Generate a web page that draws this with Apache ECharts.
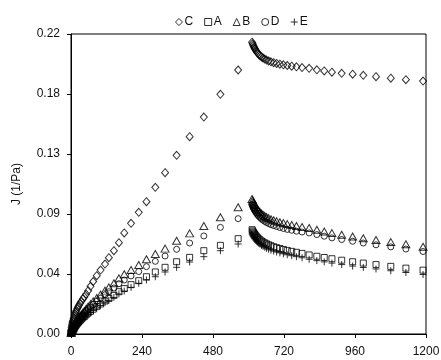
<!DOCTYPE html>
<html><head><meta charset="utf-8">
<script src="https://cdn.jsdelivr.net/npm/echarts/dist/echarts.min.js"></script>
<style>html,body{margin:0;padding:0;background:#fff}#c{width:441px;height:360px}</style>
</head><body><div id="c"></div>
<script>
// time points (s)
const creepTimes = [0.5,1,2,3,4,5,6,7,8.5,10,12,14,16,18,21,24,27,31,35,40,45,51,58,66,75,87,100,115,128,145,162,180,203,229,255,285,318,357,401,449,505,565];
const recoveryTimes = [612,614,616,618,620,622,625,628,631,635,639,644,649,655,661,668,676,685,695,706,718,731,746,762,781,805,831,856,882,915,952,988,1031,1081,1132,1190];

// compliance J (1/Pa) - creep phase
const creepC = [.0020,.0030,.0045,.0058,.0070,.0080,.0090,.0098,.0110,.0120,.0135,.0148,.0160,.0170,.0185,.0198,.0210,.0225,.0240,.0257,.0272,.0292,.0318,.0350,.0385,.0428,.0469,.0513,.0560,.0611,.0670,.0741,.0812,.0892,.0970,.1076,.1183,.1310,.1447,.1591,.1758,.1936];
const creepA = [.0006,.0010,.0016,.0021,.0025,.0030,.0033,.0036,.0042,.0046,.0052,.0059,.0064,.0069,.0077,.0084,.0091,.0100,.0109,.0119,.0128,.0140,.0153,.0166,.0182,.0201,.0220,.0242,.0260,.0283,.0310,.0333,.0362,.0391,.0420,.0455,.0489,.0530,.0562,.0611,.0650,.0699];
const creepB = [.0008,.0013,.0021,.0027,.0033,.0039,.0044,.0048,.0055,.0061,.0069,.0077,.0084,.0091,.0101,.0111,.0120,.0132,.0143,.0156,.0169,.0184,.0201,.0219,.0239,.0264,.0290,.0318,.0342,.0372,.0408,.0438,.0469,.0506,.0548,.0587,.0626,.0684,.0738,.0792,.0856,.0929];
const creepD = [.0007,.0012,.0019,.0024,.0030,.0035,.0040,.0043,.0050,.0055,.0062,.0070,.0076,.0082,.0091,.0100,.0109,.0119,.0129,.0141,.0153,.0167,.0182,.0198,.0216,.0239,.0262,.0288,.0310,.0337,.0369,.0396,.0426,.0458,.0494,.0533,.0572,.0621,.0667,.0719,.0782,.0846];
const creepE = [.0006,.0009,.0015,.0019,.0024,.0028,.0032,.0035,.0040,.0044,.0050,.0055,.0060,.0066,.0073,.0080,.0086,.0095,.0103,.0112,.0122,.0132,.0145,.0158,.0172,.0190,.0209,.0229,.0246,.0268,.0294,.0315,.0342,.0372,.0396,.0420,.0455,.0489,.0528,.0567,.0611,.0660];

// compliance J (1/Pa) - recovery phase
const recovC = [.2140,.2128,.2117,.2107,.2098,.2090,.2079,.2069,.2060,.2050,.2041,.2032,.2024,.2016,.2009,.2002,.1996,.1990,.1984,.1979,.1974,.1969,.1964,.1959,.1954,.1948,.1937,.1929,.1920,.1912,.1905,.1897,.1887,.1876,.1865,.1855];
const recovA = [.0765,.0756,.0748,.0741,.0734,.0728,.0720,.0712,.0705,.0697,.0690,.0682,.0675,.0668,.0661,.0654,.0647,.0640,.0633,.0627,.0620,.0613,.0606,.0599,.0591,.0580,.0570,.0561,.0552,.0541,.0530,.0520,.0509,.0496,.0483,.0468];
const recovB = [.0990,.0978,.0968,.0958,.0950,.0942,.0932,.0922,.0913,.0903,.0894,.0884,.0875,.0866,.0858,.0850,.0842,.0834,.0827,.0820,.0813,.0806,.0799,.0792,.0785,.0777,.0765,.0752,.0740,.0728,.0715,.0702,.0689,.0674,.0658,.0640];
const recovD = [.0950,.0938,.0928,.0918,.0910,.0902,.0892,.0882,.0873,.0863,.0854,.0844,.0835,.0826,.0818,.0810,.0802,.0795,.0788,.0781,.0774,.0767,.0761,.0754,.0748,.0741,.0729,.0717,.0705,.0693,.0680,.0667,.0654,.0639,.0623,.0605];
const recovE = [.0733,.0724,.0716,.0709,.0702,.0696,.0688,.0680,.0673,.0665,.0658,.0650,.0643,.0636,.0629,.0622,.0615,.0608,.0601,.0595,.0588,.0581,.0574,.0567,.0559,.0548,.0538,.0529,.0520,.0509,.0498,.0488,.0477,.0464,.0451,.0436];

const legendNames = ['C','A','B','D','E'];
const xTicks = [0,240,480,720,960,1200];
const yTicks = ['0.00','0.04','0.09','0.13','0.18','0.22'];

function pts(creep, recov){
  return creepTimes.map((t,i)=>[t,creep[i]]).concat(recoveryTimes.map((t,i)=>[t,recov[i]]));
}
const PLUS = 'path://M0,5L10,5M5,0L5,10';
const defs = [
  {name:'C', symbol:'diamond', size:[7,8], creep:creepC, recov:recovC},
  {name:'A', symbol:'rect', size:6, creep:creepA, recov:recovA},
  {name:'B', symbol:'triangle', size:[8,7], creep:creepB, recov:recovB},
  {name:'D', symbol:'circle', size:6, creep:creepD, recov:recovD},
  {name:'E', symbol:PLUS, size:7, creep:creepE, recov:recovE}
];
const FONT = '"Liberation Sans", Arial, sans-serif';
const chart = echarts.init(document.getElementById('c'), null, {renderer:'canvas'});
chart.setOption({
  animation:false,
  backgroundColor:'#fff',
  textStyle:{fontFamily:FONT},
  legend:{
    data:legendNames, top:11, left:170, itemWidth:7, itemHeight:7, itemGap:11,
    itemStyle:{color:'rgba(0,0,0,0)', borderColor:'#000', borderWidth:1},
    textStyle:{fontSize:12, color:'#111', fontFamily:FONT, padding:[0,0,0,-3]}
  },
  grid:{left:71, right:15, top:34, bottom:26, show:true, borderColor:'#000', borderWidth:1,
        containLabel:false, outerBoundsMode:'none'},
  xAxis:{
    type:'value', min:0, max:1200, interval:240,
    name:'t (s)', nameLocation:'middle', nameGap:27,
    nameTextStyle:{fontSize:12, color:'#111', fontFamily:FONT},
    axisLine:{lineStyle:{color:'#000', width:1}},
    axisTick:{inside:false, length:4, lineStyle:{color:'#000'}},
    axisLabel:{margin:12, fontSize:12, color:'#111', fontFamily:FONT,
      formatter:(v)=>{const i=xTicks.indexOf(v); return i>=0?String(xTicks[i]):'';}},
    splitLine:{show:false}
  },
  yAxis:{
    type:'value', min:0, max:0.22, interval:0.044,
    name:'J (1/Pa)', nameLocation:'middle', nameGap:48, nameRotate:90,
    nameTextStyle:{fontSize:12, color:'#111', fontFamily:FONT},
    axisLine:{lineStyle:{color:'#000', width:1}},
    axisTick:{inside:false, length:4, lineStyle:{color:'#000'}},
    axisLabel:{margin:11, fontSize:12, color:'#111', fontFamily:FONT,
      formatter:(v)=>yTicks[Math.round(v/0.044)]},
    splitLine:{show:false}
  },
  series: defs.map(d=>({
    name:d.name, type:'scatter', symbol:d.symbol, symbolSize:d.size,
    data:pts(d.creep,d.recov),
    itemStyle:{color:'rgba(255,255,255,0)', borderColor:'#000', borderWidth:1},
    emphasis:{disabled:true}
  }))
});
</script></body></html>
